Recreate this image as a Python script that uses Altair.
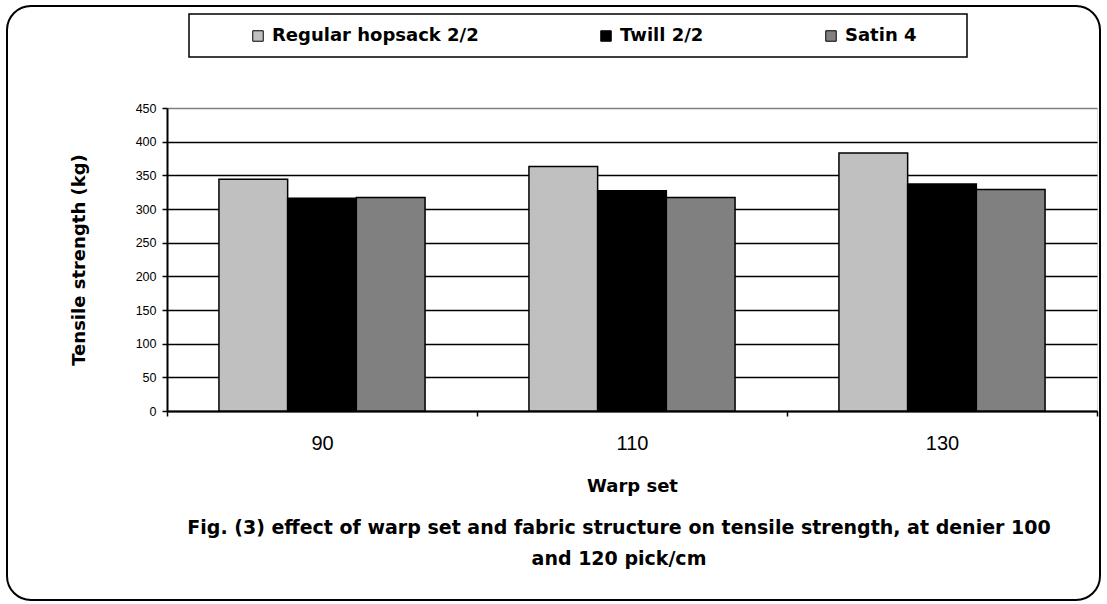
import altair as alt
import pandas as pd

warp_set = ["90", "110", "130"]
structures = ["Regular hopsack 2/2", "Twill 2/2", "Satin 4"]
regular = [344, 363, 383]
twill = [316, 327, 337]
satin = [317, 317, 329]
colors = ["#C0C0C0", "#000000", "#808080"]
y_ticks = [0, 50, 100, 150, 200, 250, 300, 350, 400, 450]
caption_line1 = "Fig. (3) effect of warp set and fabric structure on tensile strength, at denier 100"
caption_line2 = "and 120 pick/cm"

rows = []
for s, vals in zip(structures, [regular, twill, satin]):
    for w, v in zip(warp_set, vals):
        rows.append({"warp": w, "structure": s, "value": v})
df = pd.DataFrame(rows)

BOLD = "DejaVu Sans"
REG = "Liberation Sans"
BSIZE = 18

bars = alt.Chart(df).mark_bar(stroke="black", strokeWidth=1.5).encode(
    x=alt.X("warp:N", sort=warp_set, title="Warp set",
            scale=alt.Scale(paddingInner=0, paddingOuter=0),
            axis=alt.Axis(labelAngle=0, tickBand="extent", grid=False,
                          labelFont=REG, labelFontSize=20, labelColor="black",
                          labelPadding=17, tickSize=5, tickColor="black", tickWidth=1.5,
                          domainColor="black", domainWidth=2,
                          titleFont=BOLD, titleFontSize=BSIZE, titleFontWeight="bold",
                          titleColor="black", titlePadding=24)),
    xOffset=alt.XOffset("structure:N", sort=structures,
                        scale=alt.Scale(paddingInner=0, paddingOuter=0.756)),
    y=alt.Y("value:Q", title="Tensile strength (kg)",
            scale=alt.Scale(domain=[0, 450], nice=False),
            axis=alt.Axis(values=y_ticks, grid=True,
                          gridColor={"condition": {"test": "datum.value == 450", "value": "#808080"},
                                     "value": "black"},
                          gridWidth=1.3,
                          labelFont=REG, labelFontSize=12.5, labelColor="black",
                          labelPadding=6, tickSize=5, tickColor="black", tickWidth=1.5,
                          domainColor="black", domainWidth=2,
                          titleFont=BOLD, titleFontSize=BSIZE, titleFontWeight="bold",
                          titleColor="black", titlePadding=47)),
    color=alt.Color("structure:N", sort=structures,
                    scale=alt.Scale(domain=structures, range=colors),
                    legend=alt.Legend(orient="none", legendX=82, legendY=-81,
                                      direction="horizontal", title=None,
                                      symbolType="square", symbolSize=110,
                                      symbolStrokeColor="black", symbolStrokeWidth=1,
                                      symbolOpacity=1,
                                      labelFont=BOLD, labelFontSize=BSIZE, labelFontWeight="bold",
                                      labelColor="black", labelOffset=5, labelLimit=0,
                                      columnPadding=118, padding=0)),
)

deco = alt.Data(values=[{}])
outer = alt.Chart(deco).mark_rect(cornerRadius=24, fillOpacity=0, stroke="black",
                                  strokeWidth=2).encode(
    x=alt.value(-160), x2=alt.value(933), y=alt.value(-102), y2=alt.value(492))
legend_box = alt.Chart(deco).mark_rect(fillOpacity=0, stroke="black",
                                       strokeWidth=1.5).encode(
    x=alt.value(22), x2=alt.value(800), y=alt.value(-94), y2=alt.value(-51))

cap_style = dict(font=BOLD, fontSize=19, fontWeight="bold", color="black",
                 align="center", baseline="middle")
cap1 = alt.Chart(deco).mark_text(**cap_style).encode(
    x=alt.value(452), y=alt.value(420), text=alt.value(caption_line1))
cap2 = alt.Chart(deco).mark_text(**cap_style).encode(
    x=alt.value(452), y=alt.value(451), text=alt.value(caption_line2))

chart = alt.layer(outer, legend_box, bars, cap1, cap2).properties(
    width=930, height=303,
    autosize=alt.AutoSizeParams(type="none"),
    padding={"left": 167, "top": 108, "right": 10, "bottom": 193},
).configure_view(stroke="#808080", strokeWidth=1).configure(background="white")

chart.save("out.html", embed_options={"renderer": "svg", "actions": False})
